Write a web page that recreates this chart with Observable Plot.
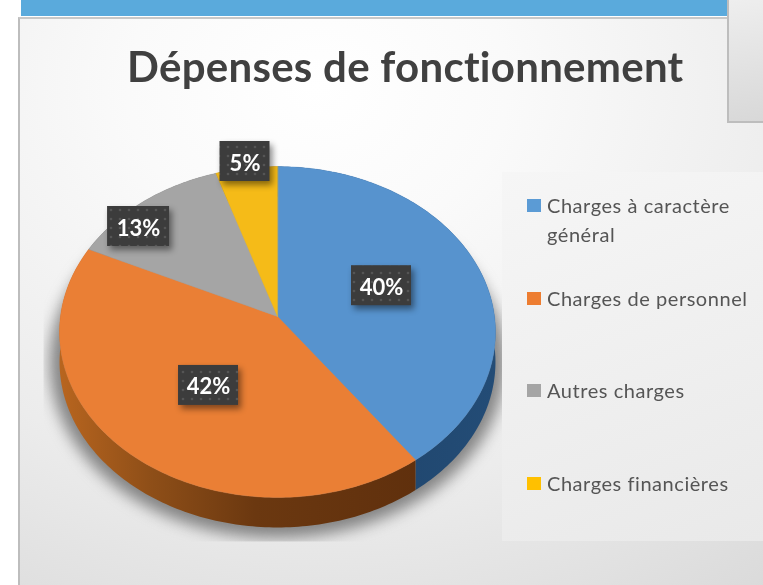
<!DOCTYPE html>
<html lang="fr">
<head>
<meta charset="utf-8">
<script src="https://cdn.jsdelivr.net/npm/d3@7"></script>
<script src="https://cdn.jsdelivr.net/npm/@observablehq/plot@0.6"></script>
<style>
html,body{margin:0;padding:0;background:#fff;width:763px;height:585px;overflow:hidden;font-family:Lato,sans-serif}
#page{position:relative;width:763px;height:585px;overflow:hidden;filter:blur(.4px)}
#band{position:absolute;left:21px;top:0;width:707px;height:16px;background:#5aaadc}
#panel{position:absolute;left:18px;top:17px;width:745px;height:568px;box-sizing:border-box;border-left:2px solid #bdbdbd;border-top:2px solid #c8c8c8;
background:radial-gradient(ellipse 760px 620px at 40% 12%,#ffffff 0%,#fafafa 25%,#ececec 65%,#dadada 100%)}
#corner{position:absolute;left:727px;top:0;width:36px;height:123px;box-sizing:border-box;border-left:2px solid #bdbdbd;border-bottom:2px solid #bdbdbd;background:linear-gradient(170deg,#eeeeee,#d8d8d8)}
#chart{position:absolute;left:0;top:0}
#title{position:absolute;left:127px;top:38px;font-size:42px;font-weight:700;color:#404040;white-space:nowrap;line-height:56px;letter-spacing:.27px;font-variant-ligatures:none}
#legendBox{position:absolute;left:502px;top:172px;width:261px;height:369px;background:linear-gradient(160deg,#f6f6f6,#e9e9e9)}
.li{position:absolute;left:25px;width:230px;font-size:20px;line-height:29px;color:#555;letter-spacing:.55px;font-variant-ligatures:none}
.li i{position:absolute;left:0;top:8px;width:14px;height:13px}
.li span{display:block;padding-left:20px}
.shadow{filter:blur(7px);clip-path:url(#shadowClip)}
.box{filter:drop-shadow(3px 4px 3px rgba(0,0,0,.45))}
svg{overflow:visible}
</style>
</head>
<body>
<div id="page">
  <div id="band"></div>
  <div id="panel"></div>
  <div id="corner"></div>
  <div id="chart"></div>
  <div id="title">Dépenses de fonctionnement</div>
  <div id="legendBox"></div>
</div>
<script>
// ---- data ----
const categories = ["Charges à caractère général", "Charges de personnel", "Autres charges", "Charges financières"];
const shares = [40, 42, 13, 5];
const labels = ["40%", "42%", "13%", "5%"];
const colors = ["#5793ce", "#ea7f35", "#a5a5a5", "#f5bb18"];

// ---- layout of the tilted disc ----
const W = 763, H = 585, cx = 277, cy = 316;
const pxX = 217, pxY = 164, tilt = 0.0937, depth = 30 / pxY;
const labelRadius = [0.524, 0.507, 0.889, 1.05];
const labelTurn = [-3.4, -2.5, -8, 0];
const labelWidth = [60, 60, 62, 50], labelHeight = 40;
const legendTop = [19, 112, 204, 297];

const project = (deg, r = 1) => {
  const a = deg * Math.PI / 180, u = r * Math.sin(a), v = -r * Math.cos(a), d = 1 - tilt * v;
  return [u / d, v / d];
};
const total = d3.sum(shares);
let acc = 0;
const slices = categories.map((name, i) => {
  const start = acc / total * 360; acc += shares[i];
  return {name, i, start, end: acc / total * 360};
});
const rim = s => d3.range(s.start, s.end, 1).concat(s.end).map(a => project(a));
const faces = slices.flatMap(s => [[0, 0], ...rim(s)].map(([x, y]) => ({name: s.name, x, y})));
const sides = slices.map(s => {
  const r = rim(s);
  return [...r, ...r.slice().reverse().map(([x, y]) => [x, y + depth])].map(([x, y]) => ({x, y}));
});
const outline = d3.range(0, 361, 2).map(a => project(a)).map(([x, y]) => ({x, y: y + depth * 1.02}));
const labelRows = slices.map(s => {
  const [x, y] = project((s.start + s.end) / 2 + labelTurn[s.i], labelRadius[s.i]);
  const w = labelWidth[s.i] / 2 / pxX, h = labelHeight / 2 / pxY;
  return {label: labels[s.i], x, y, x1: x - w, x2: x + w, y1: y - h, y2: y + h};
});

const sideFill = ["url(#sideBlue)", "url(#sideOrange)", "#6d6d6d", "#8f6c0c"];
const plot = Plot.plot({
  width: W, height: H, margin: 0,
  style: {background: "transparent"},
  x: {domain: [-cx / pxX, (W - cx) / pxX], range: [0, W], axis: null},
  y: {domain: [-cy / pxY, (H - cy) / pxY], range: [0, H], axis: null},
  color: {domain: categories, range: colors},
  marks: [
    Plot.line(outline, {x: "x", y: "y", fill: "#6f6f6f", stroke: "#6f6f6f", strokeWidth: 22, strokeOpacity: .7, fillOpacity: .7, curve: "linear-closed", className: "shadow"}),
    ...sides.map((pts, i) => Plot.line(pts, {x: "x", y: "y", fill: sideFill[i], stroke: null, curve: "linear-closed"})),
    Plot.line(faces, {x: "x", y: "y", z: "name", fill: "name", stroke: "name", strokeWidth: .4, curve: "linear-closed"}),
    Plot.rect(labelRows, {x1: "x1", x2: "x2", y1: "y1", y2: "y2", fill: "url(#dots)", className: "box"}),
    Plot.text(labelRows, {x: "x", y: "y", dy: 2, text: "label", fill: "white", fontSize: 22, fontWeight: 700, fontFamily: "Lato, sans-serif"})
  ]
});
d3.select(plot).insert("defs", ":first-child").html(`
  <clipPath id="shadowClip"><rect x="43" y="130" width="459" height="411"></rect></clipPath>
  <linearGradient id="sideBlue" x1="0" x2="1" y1="0" y2="0"><stop offset="0" stop-color="#1e4268"/><stop offset="1" stop-color="#234c76"/></linearGradient>
  <linearGradient id="sideOrange" x1="0" x2="1" y1="0" y2="0"><stop offset="0" stop-color="#b8651f"/><stop offset=".25" stop-color="#8f4f18"/><stop offset=".55" stop-color="#6b3810"/><stop offset="1" stop-color="#60300d"/></linearGradient>
  <pattern id="dots" width="9" height="9" patternUnits="userSpaceOnUse"><rect width="9" height="9" fill="#3c3c3c"></rect><circle cx="3" cy="3" r="1.3" fill="#555"></circle></pattern>`);
document.getElementById("chart").appendChild(plot);

const box = document.getElementById("legendBox");
categories.forEach((c, i) => {
  const row = document.createElement("div");
  row.className = "li";
  row.style.top = legendTop[i] + "px";
  row.innerHTML = `<i style="background:${["#5b9bd5","#ed7d31","#a5a5a5","#ffc000"][i]}"></i><span>${c}</span>`;
  box.appendChild(row);
});
</script>
</body>
</html>
